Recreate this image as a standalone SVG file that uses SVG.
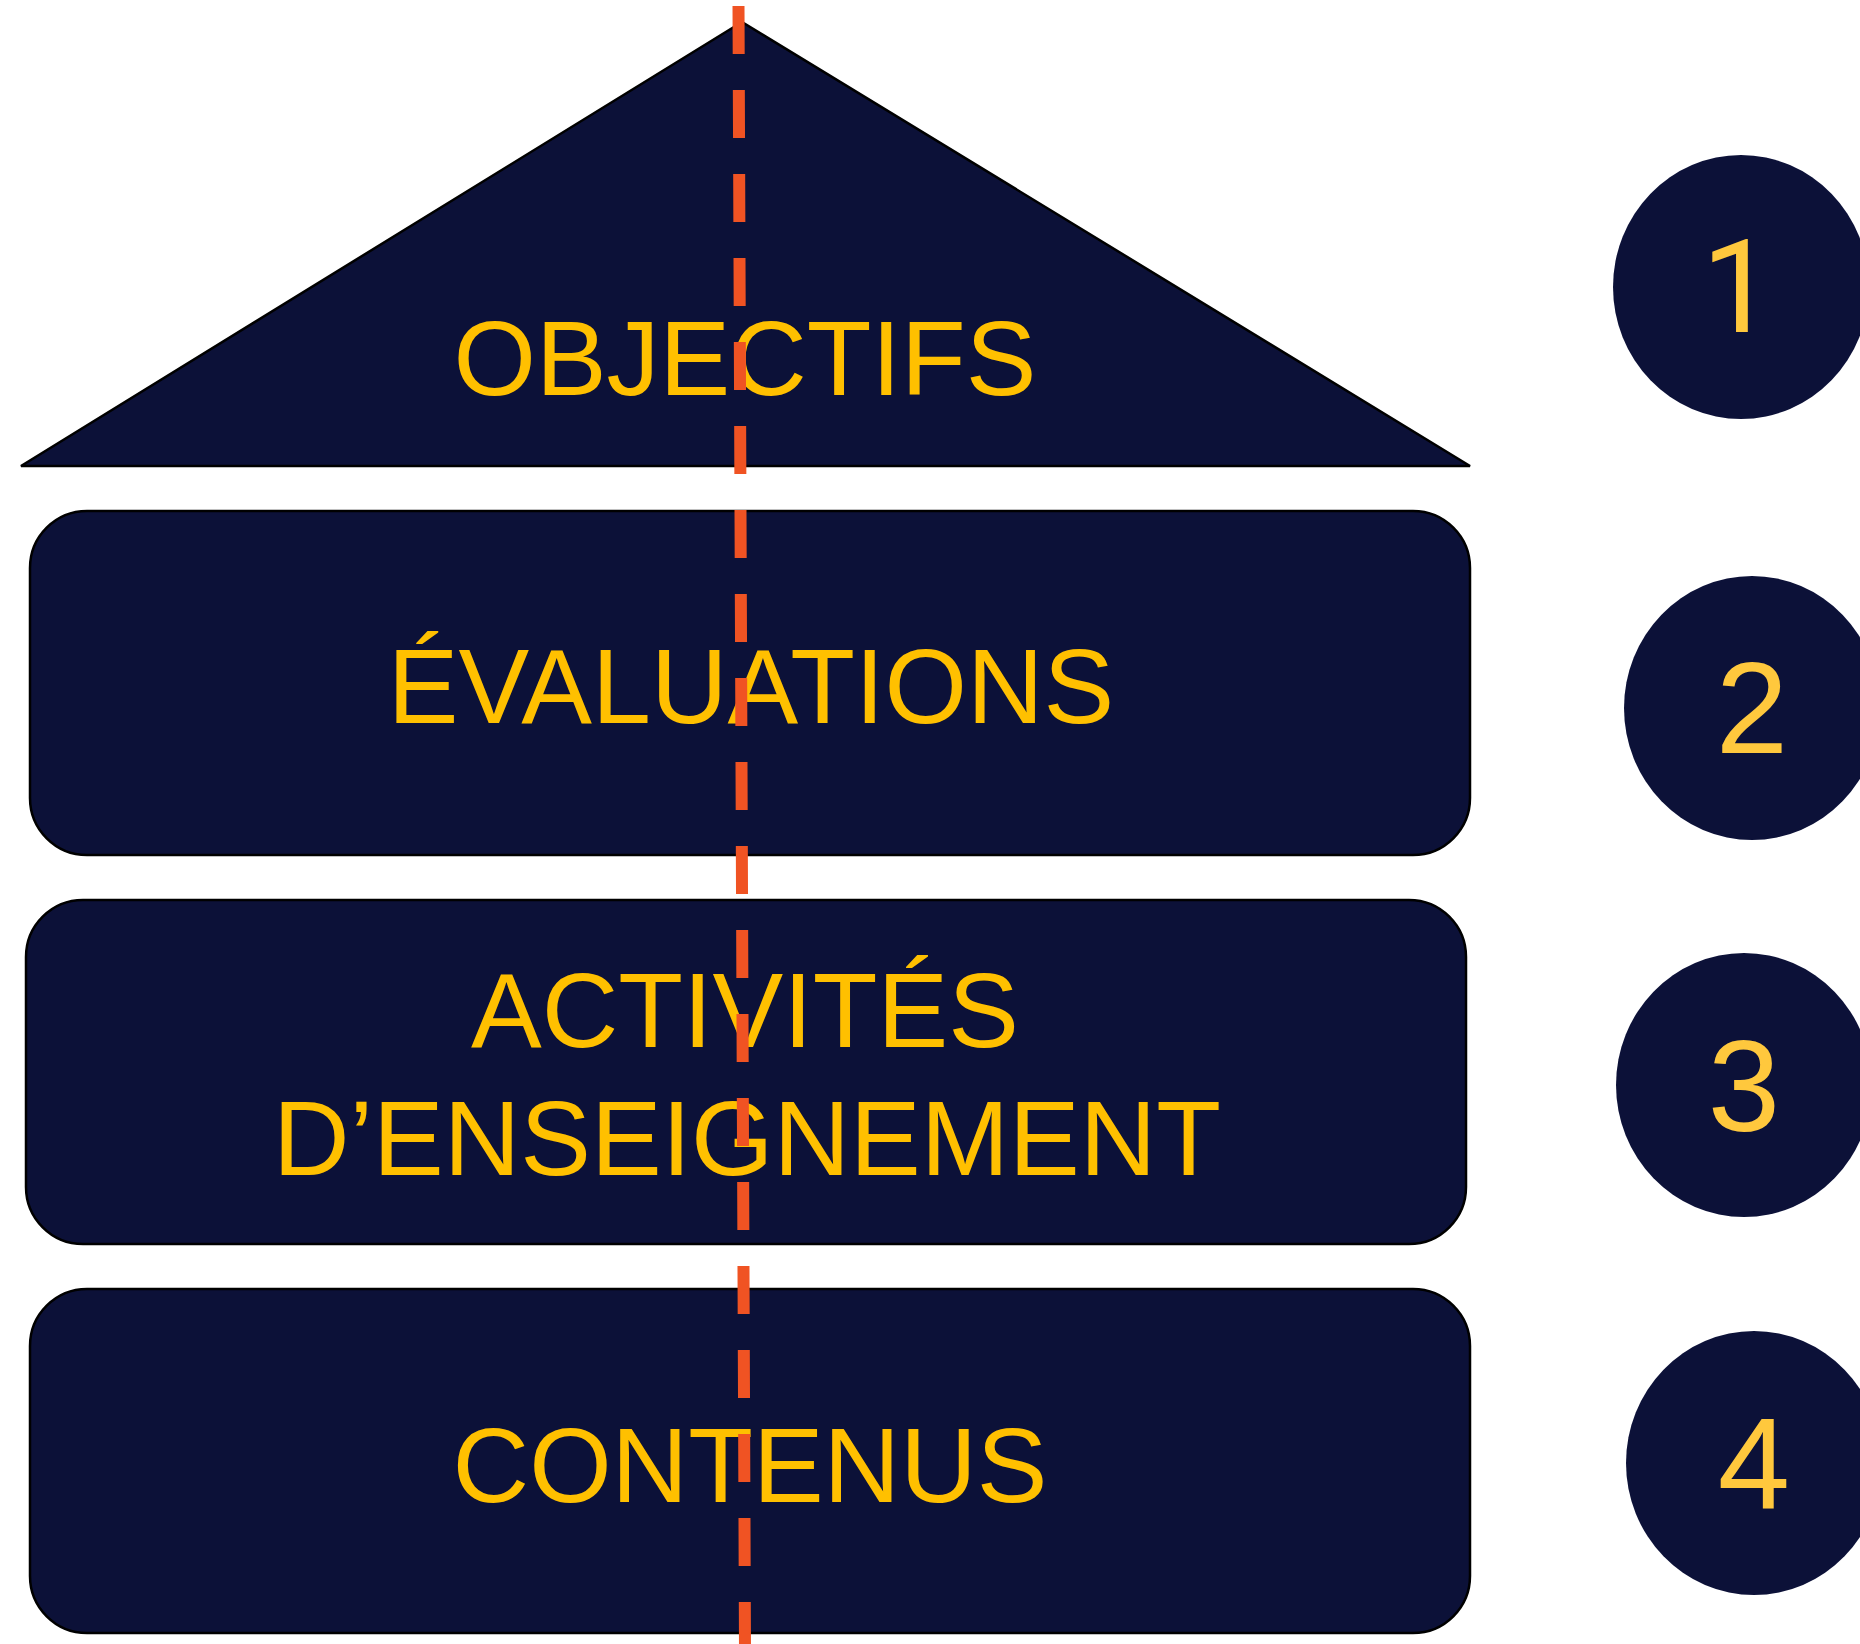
<svg xmlns="http://www.w3.org/2000/svg" width="1860" height="1644" viewBox="0 0 1860 1644">
<style>
.shape{fill:#0C1138;stroke:#000000;stroke-width:2.5;stroke-linejoin:bevel}
.circ{fill:#0C1138}
.lbl{font-family:"Liberation Sans",Arial,sans-serif;font-size:106px;fill:#FFC000;text-anchor:middle}
.num{font-family:"Liberation Sans",Arial,sans-serif;font-size:130px;fill:#FFC83D;text-anchor:middle}
.one{font-family:Roboto,"Liberation Sans",Arial,sans-serif}
.dash{stroke:#F05323;stroke-width:12;stroke-dasharray:48 36;fill:none}
</style>
<rect width="1860" height="1644" fill="#FFFFFF"/>
<g id="objectifs">
<polygon class="shape" points="742,22 1470,466 21,466"/>
<text class="lbl" x="745" y="395">OBJECTIFS</text>
</g>
<g id="evaluations">
<rect class="shape" x="30" y="511" width="1440" height="344" rx="57" ry="57"/>
<text class="lbl" x="751" y="723">ÉVALUATIONS</text>
</g>
<g id="activites">
<rect class="shape" x="26" y="900" width="1440" height="344" rx="57" ry="57"/>
<text class="lbl" x="745" y="1047">ACTIVITÉS</text>
<text class="lbl" x="747" y="1175">D’ENSEIGNEMENT</text>
</g>
<g id="contenus">
<rect class="shape" x="30" y="1289" width="1440" height="344" rx="57" ry="57"/>
<text class="lbl" x="750" y="1502">CONTENUS</text>
</g>
<g id="num1">
<ellipse class="circ" cx="1741" cy="287" rx="128" ry="132"/>
<text class="num one" x="1738" y="332">1</text>
</g>
<g id="num2">
<ellipse class="circ" cx="1752" cy="708" rx="128" ry="132"/>
<text class="num" x="1752" y="753">2</text>
</g>
<g id="num3">
<ellipse class="circ" cx="1744" cy="1085" rx="128" ry="132"/>
<text class="num" x="1744" y="1131">3</text>
</g>
<g id="num4">
<ellipse class="circ" cx="1754" cy="1463" rx="128" ry="132"/>
<text class="num" x="1754" y="1508">4</text>
</g>
<g id="connectors">
<line class="dash" x1="738.5" y1="6" x2="745" y2="1650"/>
</g>
</svg>
